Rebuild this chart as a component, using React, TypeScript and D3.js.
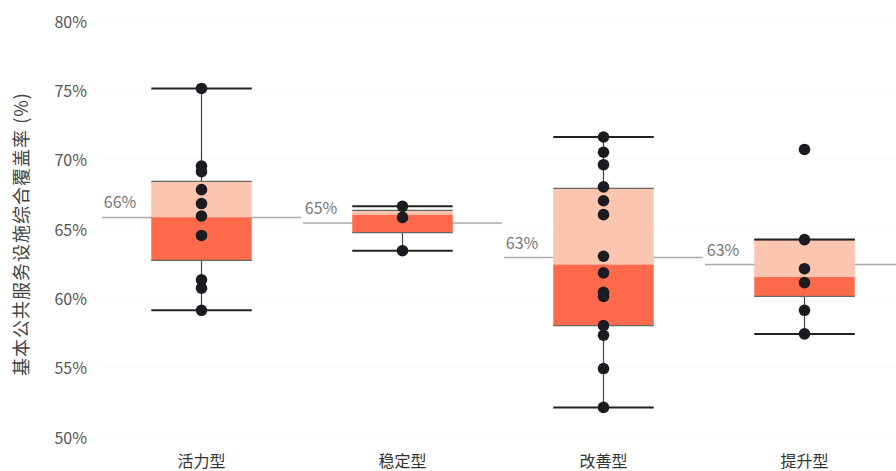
import React from "react";
import * as d3 from "d3";

const categories = ["活力型", "稳定型", "改善型", "提升型"];
const points1 = [75.1, 69.5, 69.1, 67.8, 66.8, 65.9, 64.5, 61.3, 60.7, 59.1];
const points2 = [66.6, 65.8, 63.4];
const points3 = [71.6, 70.5, 69.6, 68.0, 67.0, 66.0, 63.0, 61.8, 60.4, 60.1, 58.0, 57.3, 54.9, 52.1];
const points4 = [70.7, 64.2, 62.1, 61.1, 59.1, 57.4];
const q1Values = [62.7, 64.7, 58.0, 60.1];
const medianValues = [65.8, 66.0, 62.4, 61.5];
const q3Values = [68.4, 66.3, 67.9, 64.2];
const whiskerLow = [59.1, 63.4, 52.1, 57.4];
const whiskerHigh = [75.1, 66.6, 71.6, 64.2];
const meanValues = [65.8, 65.4, 62.9, 62.4];
const meanLabels = ["66%", "65%", "63%", "63%"];
const yTicks = [50, 55, 60, 65, 70, 75, 80];
const yTitle = "基本公共服务设施综合覆盖率 (%)";

const allPoints = [points1, points2, points3, points4];

const W = 896;
const H = 471;
const FONT = "'Noto Sans CJK SC', 'Noto Sans', sans-serif";

export default function App() {
  const y = d3.scaleLinear().domain([50, 80]).range([436.5, 20.5]);
  const x = d3.scaleBand<string>().domain(categories).range([101, 905]).paddingInner(0).paddingOuter(0);
  const bw = x.bandwidth();
  const boxW = bw * 0.5;

  return (
    <svg
      width={W}
      height={H}
      style={{ position: "fixed", left: 0, top: 0, background: "#fff" }}
      fontFamily={FONT}
    >
      <rect width={W} height={H} fill="#fff" />
      {yTicks.map((t) => (
        <g key={t}>
          <line x1={101} x2={W} y1={y(t)} y2={y(t)} stroke="#fafafa" strokeWidth={1} />
          <text
            x={87}
            y={y(t)}
            textAnchor="end"
            dominantBaseline="central"
            fontSize={16}
            fill="#555"
          >
            {t}%
          </text>
        </g>
      ))}
      <text
        transform={`translate(20,${234}) rotate(-90)`}
        textAnchor="middle"
        dominantBaseline="central"
        fontSize={18}
        letterSpacing={1}
        fill="#444"
      >
        {yTitle}
      </text>
      {categories.map((c, i) => {
        const bx = x(c)!;
        const cx = bx + bw / 2;
        const left = cx - boxW / 2;
        const right = cx + boxW / 2;
        return (
          <g key={c}>
            <line
              x1={bx + 1}
              x2={bx + bw - 1}
              y1={y(meanValues[i])}
              y2={y(meanValues[i])}
              stroke="#aaa"
              strokeWidth={1.5}
            />
            <text
              x={left - 15}
              y={y(meanValues[i]) - 9}
              textAnchor="end"
              fontSize={16}
              fill="#777"
            >
              {meanLabels[i]}
            </text>
            <line
              x1={cx}
              x2={cx}
              y1={y(whiskerLow[i])}
              y2={y(whiskerHigh[i])}
              stroke="#444"
              strokeWidth={1.2}
            />
            <rect
              x={left}
              width={boxW}
              y={y(q3Values[i])}
              height={y(medianValues[i]) - y(q3Values[i])}
              fill="#fbc5b0"
            />
            <rect
              x={left}
              width={boxW}
              y={y(medianValues[i])}
              height={y(q1Values[i]) - y(medianValues[i])}
              fill="#ff6a4a"
            />
            <line x1={left} x2={right} y1={y(q3Values[i])} y2={y(q3Values[i])} stroke="#666" strokeWidth={1.2} />
            <line x1={left} x2={right} y1={y(q1Values[i])} y2={y(q1Values[i])} stroke="#666" strokeWidth={1.2} />
            <line x1={left} x2={right} y1={y(whiskerHigh[i])} y2={y(whiskerHigh[i])} stroke="#222" strokeWidth={2} />
            <line x1={left} x2={right} y1={y(whiskerLow[i])} y2={y(whiskerLow[i])} stroke="#222" strokeWidth={2} />
            {allPoints[i].map((v, j) => (
              <circle key={j} cx={cx} cy={y(v)} r={5.8} fill="#1c1b22" />
            ))}
            <text x={cx} y={460} textAnchor="middle" dominantBaseline="central" fontSize={16} fill="#333">
              {c}
            </text>
          </g>
        );
      })}
    </svg>
  );
}
